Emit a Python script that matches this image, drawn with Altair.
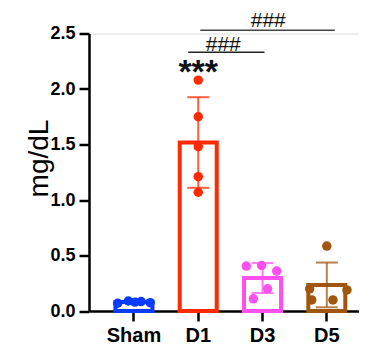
import altair as alt
import pandas as pd

groups = ["Sham", "D1", "D3", "D5"]
colors = ["#0a3cff", "#ff2a00", "#ff50ee", "#a0560f"]
sham = [0.07, 0.09, 0.08, 0.085, 0.075]
d1 = [2.08, 1.75, 1.48, 1.21, 1.07]
d3 = [0.405, 0.41, 0.36, 0.20, 0.11]
d5 = [0.585, 0.20, 0.10, 0.10, 0.19]
# beeswarm slot of each point, in half bar widths
sham_slot = [-0.87, -0.3, 0.05, 0.38, 0.87]
d1_slot = [0, 0, 0, 0, 0]
d3_slot = [-0.87, -0.05, 0.76, 0.27, -0.49]
d5_slot = [0, -0.92, -0.81, 0.33, 1.08]
y_ticks = [0, 0.5, 1.0, 1.5, 2.0, 2.5]

rows = []
for g, vals, slots in zip(groups, [sham, d1, d3, d5], [sham_slot, d1_slot, d3_slot, d5_slot]):
    for v, s in zip(vals, slots):
        rows.append({"group": g, "value": v, "slot": s})
df = pd.DataFrame(rows)

FONT = "Liberation Sans"
xenc = alt.X("group:N", sort=groups, title=None,
             scale=alt.Scale(paddingInner=0.42, paddingOuter=0.31, align=0.66),
             axis=alt.Axis(labelAngle=0, labelFontSize=20, labelFontWeight="bold",
                           labelColor="black", domainColor="black", domainWidth=2.5,
                           tickColor="black", tickWidth=2.5, tickSize=10, labelPadding=4))
yscale = alt.Scale(domain=[0, 2.5], nice=False)
yaxis = alt.Axis(values=y_ticks, format=".1f", labelFontSize=18, labelFontWeight="bold",
                 labelColor="black", domainColor="black", domainWidth=2.5,
                 tickColor="black", tickWidth=2.5, tickSize=10, labelPadding=4, grid=False,
                 titleFontSize=28, titleFontWeight="normal", titleColor="black",
                 titleX=-42, titleY=124.5, titleAngle=270, titleAlign="center",
                 titleBaseline="alphabetic")
cenc = alt.Color("group:N", scale=alt.Scale(domain=groups, range=colors), legend=None)

base = alt.Chart(df)
bars = base.mark_bar(fill="white", strokeWidth=4, width=37).encode(
    x=xenc,
    y=alt.Y("mean(value):Q", scale=yscale, axis=yaxis, title="mg/dL"),
    stroke=alt.Stroke("group:N", scale=alt.Scale(domain=groups, range=colors), legend=None),
)
points = base.mark_circle(size=90, opacity=1).encode(
    x=xenc,
    xOffset=alt.XOffset("slot:Q", scale=alt.Scale(domain=[-1, 1])),
    y=alt.Y("value:Q", scale=yscale, title="mg/dL"),
    color=cenc,
)
errs = base.mark_errorbar(extent="stdev", ticks={"size": 22}, thickness=2, opacity=0.75).encode(
    x=xenc,
    y=alt.Y("value:Q", scale=yscale, title="mg/dL"),
    color=cenc,
)

one = alt.Chart(pd.DataFrame({"k": [0]}))
rule_lo = one.mark_rule(color="#222", strokeWidth=1.5, xOffset=-10, x2Offset=2).encode(
    x=alt.datum("D1"), x2=alt.datum("D3"), y=alt.datum(2.33))
rule_hi = one.mark_rule(color="#444", strokeWidth=1.5, xOffset=2, x2Offset=8).encode(
    x=alt.datum("D1"), x2=alt.datum("D5"), y=alt.datum(2.53))
txt_lo = one.mark_text(text="###", font=FONT, fontSize=21, color="#111", dx=25, dy=-1,
                       baseline="alphabetic").encode(x=alt.datum("D1"), y=alt.datum(2.33))
txt_hi = one.mark_text(text="###", font=FONT, fontSize=21, color="#111", dx=70, dy=-3,
                       baseline="alphabetic").encode(x=alt.datum("D1"), y=alt.datum(2.53))
stars = one.mark_text(text="***", font=FONT, fontSize=34, fontWeight="bold", color="#111",
                      baseline="alphabetic", dx=0, dy=16).encode(x=alt.datum("D1"), y=alt.datum(2.2))

chart = alt.layer(bars, points, errs, rule_lo, rule_hi, txt_lo, txt_hi, stars).properties(
    width=270, height=277.5,
    autosize=alt.AutoSizeParams(type="none"),
    padding={"left": 81, "top": 25.5, "right": 0, "bottom": 35},
).configure_view(stroke=None).configure(font=FONT).configure_axis(labelFont=FONT, titleFont=FONT)

chart.save("out.html", embed_options={"renderer": "svg", "actions": False})
